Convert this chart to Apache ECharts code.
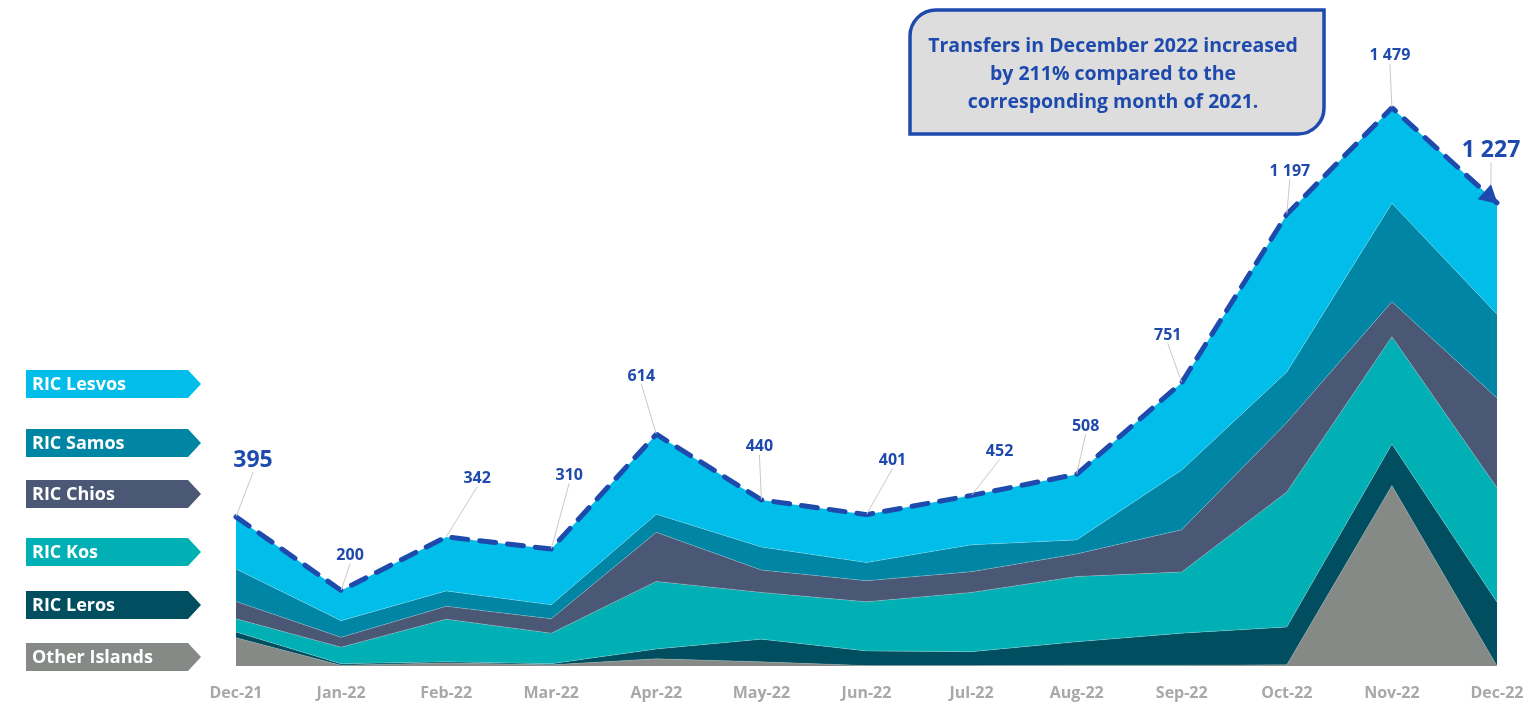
<!DOCTYPE html>
<html>
<head>
<meta charset="utf-8">
<script src="https://cdn.jsdelivr.net/npm/echarts@6/dist/echarts.min.js"></script>
<style>
  html, body { margin: 0; padding: 0; background: #fff; }
  #chart { width: 1533px; height: 704px; }
</style>
</head>
<body>
<div id="chart"></div>
<script>
// months on the x axis
const months = ['Dec-21', 'Jan-22', 'Feb-22', 'Mar-22', 'Apr-22', 'May-22', 'Jun-22',
  'Jul-22', 'Aug-22', 'Sep-22', 'Oct-22', 'Nov-22', 'Dec-22']

// transfers per island (stacked bottom -> top)
const otherIslands = [75, 2, 8, 3, 19, 11, 1, 1, 2, 2, 3, 478, 0]
const ricLeros = [15, 4, 3, 3, 26, 60, 39, 37, 62, 85, 100, 110, 169]
const ricKos = [35, 44, 113, 81, 179, 124, 130, 157, 173, 162, 358, 284, 303]
const ricChios = [46, 26, 34, 38, 130, 59, 56, 55, 60, 112, 184, 93, 238]
const ricSamos = [86, 44, 41, 37, 48, 61, 48, 71, 37, 158, 134, 261, 222]
const ricLesvos = [138, 80, 143, 148, 212, 125, 127, 131, 174, 232, 418, 253, 295]

// monthly totals shown as labels
const totals = [395, 200, 342, 310, 614, 440, 401, 452, 508, 751, 1197, 1479, 1227]

// where each total label sits relative to its point (label centre)
const labelOffsets = [[17, -56], [9, -35], [31, -58], [18, -74], [-15, -58], [-2, -53], [26, -54],
  [28, -44], [9, -48], [-14, -47], [3, -43], [-2, -52], [0, -47]]

const layers = [
  { name: 'Other Islands', data: otherIslands, color: '#858a86' },
  { name: 'RIC Leros', data: ricLeros, color: '#004e5f' },
  { name: 'RIC Kos', data: ricKos, color: '#00b0b4' },
  { name: 'RIC Chios', data: ricChios, color: '#4a5875' },
  { name: 'RIC Samos', data: ricSamos, color: '#0086a4' },
  { name: 'RIC Lesvos', data: ricLesvos, color: '#00bde9' }
]

// legend tags on the left (top -> bottom)
const tagTops = { 'RIC Lesvos': 370, 'RIC Samos': 429, 'RIC Chios': 480, 'RIC Kos': 538, 'RIC Leros': 591, 'Other Islands': 643 }

const FONT = '"Open Sans"'
const BLUE = '#1e4aae'

function fmt (v) {
  return v >= 1000 ? Math.floor(v / 1000) + ' ' + String(v % 1000).padStart(3, '0') : String(v)
}

const chart = echarts.init(document.getElementById('chart'))

const graphics = []
layers.slice().reverse().forEach(l => {
  const y = tagTops[l.name]
  const w = 175
  const h = 28
  graphics.push({
    type: 'polygon',
    shape: { points: [[26, y], [26 + w - 13, y], [26 + w, y + h / 2], [26 + w - 13, y + h], [26, y + h]] },
    style: { fill: l.color }
  })
  graphics.push({
    type: 'text',
    x: 32,
    y: y + h / 2 + 1,
    style: { text: l.name, fill: '#fff', font: 'bold 18px ' + FONT, textVerticalAlign: 'middle' }
  })
})

// note box
graphics.push({
  type: 'rect',
  shape: { x: 910, y: 10, width: 414, height: 124, r: [26, 0, 26, 0] },
  style: { fill: '#dddddd', stroke: BLUE, lineWidth: 3.5 }
})
graphics.push({
  type: 'text',
  x: 1113,
  y: 74,
  style: {
    text: 'Transfers in December 2022 increased\nby 211% compared to the\ncorresponding month of 2021.',
    fill: BLUE,
    font: 'bold 19.5px ' + FONT,
    lineHeight: 28,
    textAlign: 'center',
    textVerticalAlign: 'middle'
  }
})

const series = layers.map(l => ({
  name: l.name,
  type: 'line',
  stack: 'total',
  data: l.data,
  symbol: 'none',
  lineStyle: { width: 0.6, color: 'rgba(255,255,255,0.35)' },
  areaStyle: { color: l.color, opacity: 1 },
  itemStyle: { color: l.color },
  silent: true
}))

const last = totals.length - 1
series.push({
  name: 'Total',
  type: 'line',
  data: totals.map((v, i) => {
    const item = { value: v }
    const big = i === 0 || i === last
    item.label = { fontSize: big ? 23 : 16 }
    if (i === last) {
      item.symbol = 'triangle'
      item.symbolSize = [20, 18]
      item.symbolRotate = -132
      item.symbolOffset = [-6, -5]
      item.itemStyle = { color: BLUE }
    }
    return item
  }),
  symbol: 'circle',
  symbolSize: 1,
  itemStyle: { color: 'rgba(0,0,0,0)' },
  lineStyle: { color: BLUE, width: 5, type: [16, 12], cap: 'round' },
  z: 5,
  label: {
    show: true,
    position: 'inside',
    color: BLUE,
    fontFamily: FONT,
    fontWeight: 'bold',
    formatter: p => fmt(p.value)
  },
  labelLine: { show: true, lineStyle: { color: '#c9c9c9', width: 1 } },
  labelLayout: p => ({ dx: labelOffsets[p.dataIndex][0], dy: labelOffsets[p.dataIndex][1] })
})

const option = {
  animation: false,
  backgroundColor: '#fff',
  grid: { left: 236, right: 36, top: 62, bottom: 38 },
  xAxis: {
    type: 'category',
    data: months,
    boundaryGap: false,
    axisLine: { show: false },
    axisTick: { show: false },
    axisLabel: { color: '#a8a8a8', fontWeight: 'bold', fontSize: 16, fontFamily: FONT, margin: 19 }
  },
  yAxis: { type: 'value', min: 0, max: 1600, show: false },
  graphic: graphics,
  series: series
}

chart.setOption(option)
</script>
</body>
</html>
